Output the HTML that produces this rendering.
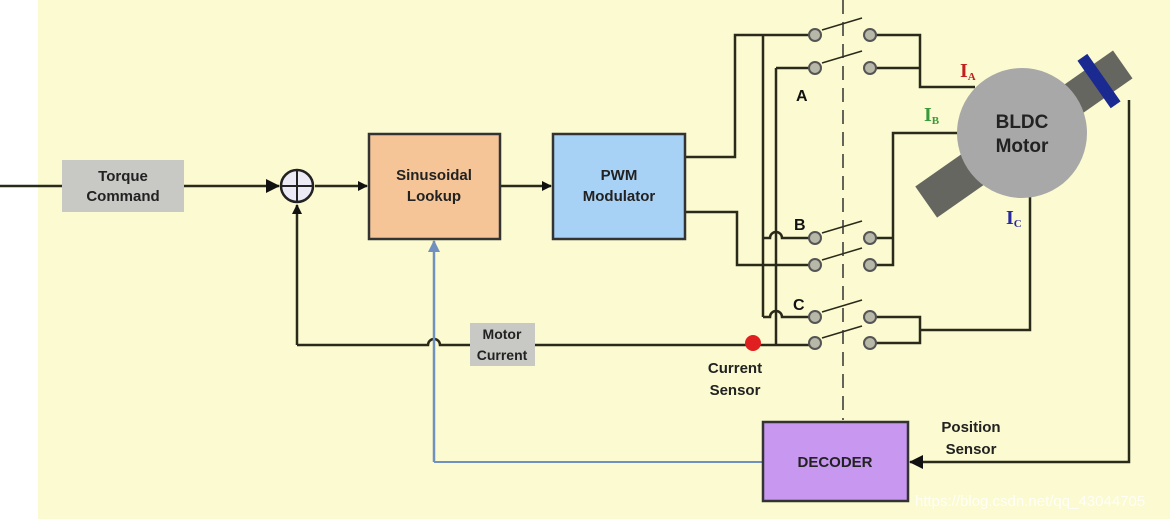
<!DOCTYPE html>
<html><head><meta charset="utf-8"><style>
html,body{margin:0;padding:0;background:#fff}
svg{display:block}
text{font-family:"Liberation Sans",sans-serif;font-weight:bold}
text.s{font-family:"Liberation Serif",serif}
</style></head><body>
<svg width="1170" height="519" viewBox="0 0 1170 519" xmlns="http://www.w3.org/2000/svg">
<defs>
<marker id="ar" markerWidth="10" markerHeight="10" refX="9" refY="5" orient="auto" markerUnits="userSpaceOnUse"><path d="M0,0 L10,5 L0,10 z" fill="#111"/></marker>
<marker id="arb" markerWidth="14" markerHeight="14" refX="13" refY="7" orient="auto" markerUnits="userSpaceOnUse"><path d="M0,0 L14,7 L0,14 z" fill="#111"/></marker>
<marker id="arl" markerWidth="12" markerHeight="12" refX="11" refY="6" orient="auto" markerUnits="userSpaceOnUse"><path d="M0,0 L12,6 L0,12 z" fill="#7090c0"/></marker>
</defs>
<rect x="38" y="0" width="1132" height="519" fill="#fbfad0"/>
<g stroke="#2a2a1a" stroke-width="2.5" fill="none">
<line x1="0" y1="186" x2="62" y2="186"/>
<line x1="184" y1="186" x2="279" y2="186" marker-end="url(#arb)"/>
<line x1="315" y1="186" x2="367" y2="186" marker-end="url(#ar)"/>
<line x1="500" y1="186" x2="551" y2="186" marker-end="url(#ar)"/>
<path d="M297,345 L297,205" marker-end="url(#ar)"/>
<path d="M297,345 L428,345 A6,6 0 0 1 440,345 L470,345"/>
<path d="M535,345 L815,345"/>
<path d="M685,157 L735,157 L735,35 L815,35"/>
<path d="M685,212 L737,212 L737,265 L815,265"/>
<path d="M763,35 L763,317"/>
<path d="M776,68 L776,345"/>
<path d="M776,68 L815,68"/>
<path d="M763,238 L770,238 A6,6 0 0 1 782,238 L815,238"/>
<path d="M763,317 L770,317 A6,6 0 0 1 782,317 L815,317"/>
<path d="M870,35 L920,35 L920,87 L975,87"/>
<path d="M870,68 L920,68"/>
<path d="M958,133 L893,133 L893,265 L870,265"/>
<path d="M870,238 L893,238"/>
<path d="M870,317 L920,317 L920,343 L870,343"/>
<path d="M920,330 L1030,330 L1030,195"/>
<path d="M1129,100 L1129,462 L910,462" marker-end="url(#arb)"/>
<line x1="822" y1="30" x2="862" y2="18" stroke-width="1.5"/>
<line x1="822" y1="63" x2="862" y2="51" stroke-width="1.5"/>
<line x1="822" y1="233" x2="862" y2="221" stroke-width="1.5"/>
<line x1="822" y1="260" x2="862" y2="248" stroke-width="1.5"/>
<line x1="822" y1="312" x2="862" y2="300" stroke-width="1.5"/>
<line x1="822" y1="338" x2="862" y2="326" stroke-width="1.5"/>
</g>
<line x1="843" y1="0" x2="843" y2="420" stroke="#333" stroke-width="1.5" stroke-dasharray="14,8"/>
<path d="M434,462 L434,241" stroke="#7090c0" stroke-width="2.5" fill="none" marker-end="url(#arl)"/>
<path d="M434,462 L763,462" stroke="#7090c0" stroke-width="2" fill="none"/>
<g fill="#b8b8a8" stroke="#555" stroke-width="2">
<circle cx="815" cy="35" r="6"/><circle cx="870" cy="35" r="6"/>
<circle cx="815" cy="68" r="6"/><circle cx="870" cy="68" r="6"/>
<circle cx="815" cy="238" r="6"/><circle cx="870" cy="238" r="6"/>
<circle cx="815" cy="265" r="6"/><circle cx="870" cy="265" r="6"/>
<circle cx="815" cy="317" r="6"/><circle cx="870" cy="317" r="6"/>
<circle cx="815" cy="343" r="6"/><circle cx="870" cy="343" r="6"/>
</g>
<circle cx="753" cy="343" r="8" fill="#e02020"/>
<rect x="62" y="160" width="122" height="52" fill="#c8c8c4"/>
<text x="123" y="181" font-size="15" text-anchor="middle" fill="#222">Torque</text>
<text x="123" y="201" font-size="15" text-anchor="middle" fill="#222">Command</text>
<circle cx="297" cy="186" r="16" fill="#eceaf4" stroke="#222" stroke-width="2.5"/>
<line x1="281" y1="186" x2="313" y2="186" stroke="#222" stroke-width="2"/>
<line x1="297" y1="170" x2="297" y2="202" stroke="#222" stroke-width="2"/>
<rect x="369" y="134" width="131" height="105" fill="#f5c597" stroke="#333" stroke-width="2.5"/>
<text x="434" y="180" font-size="15" text-anchor="middle" fill="#222">Sinusoidal</text>
<text x="434" y="201" font-size="15" text-anchor="middle" fill="#222">Lookup</text>
<rect x="553" y="134" width="132" height="105" fill="#a8d2f5" stroke="#333" stroke-width="2.5"/>
<text x="619" y="180" font-size="15" text-anchor="middle" fill="#222">PWM</text>
<text x="619" y="201" font-size="15" text-anchor="middle" fill="#222">Modulator</text>
<rect x="470" y="323" width="65" height="43" fill="#c8c8c4"/>
<text x="502" y="339" font-size="14" text-anchor="middle" fill="#222">Motor</text>
<text x="502" y="360" font-size="14" text-anchor="middle" fill="#222">Current</text>
<rect x="763" y="422" width="145" height="79" fill="#c898f0" stroke="#333" stroke-width="2.5"/>
<text x="835" y="467" font-size="15" text-anchor="middle" fill="#222">DECODER</text>
<text x="735" y="373" font-size="15" text-anchor="middle" fill="#222">Current</text>
<text x="735" y="395" font-size="15" text-anchor="middle" fill="#222">Sensor</text>
<text x="971" y="432" font-size="15" text-anchor="middle" fill="#222">Position</text>
<text x="971" y="454" font-size="15" text-anchor="middle" fill="#222">Sensor</text>
<text x="796" y="101" font-size="16" fill="#111">A</text>
<text x="794" y="230" font-size="16" fill="#111">B</text>
<text x="793" y="310" font-size="16" fill="#111">C</text>
<g transform="rotate(-35 1022 135)">
<rect x="905" y="116" width="80" height="38" fill="#666660"/>
<rect x="1060" y="118" width="85" height="34" fill="#666660"/>
<rect x="1110" y="106" width="12" height="58" fill="#1a2a90"/>
</g>
<circle cx="1022" cy="133" r="65" fill="#a8a8a8"/>
<text x="1022" y="128" font-size="19" text-anchor="middle" fill="#222">BLDC</text>
<text x="1022" y="152" font-size="19" text-anchor="middle" fill="#222">Motor</text>
<text class="s" x="960" y="77" font-size="20" fill="#c02020">I<tspan font-size="11" dy="3">A</tspan></text>
<text class="s" x="924" y="121" font-size="20" fill="#3a9a3a">I<tspan font-size="11" dy="3">B</tspan></text>
<text class="s" x="1006" y="224" font-size="20" fill="#2a2aa0">I<tspan font-size="11" dy="3">C</tspan></text>
<text x="915" y="506" font-size="15" fill="#ffffff" fill-opacity="0.85" style="font-weight:normal">https://blog.csdn.net/qq_43044705</text>
</svg>
</body></html>
